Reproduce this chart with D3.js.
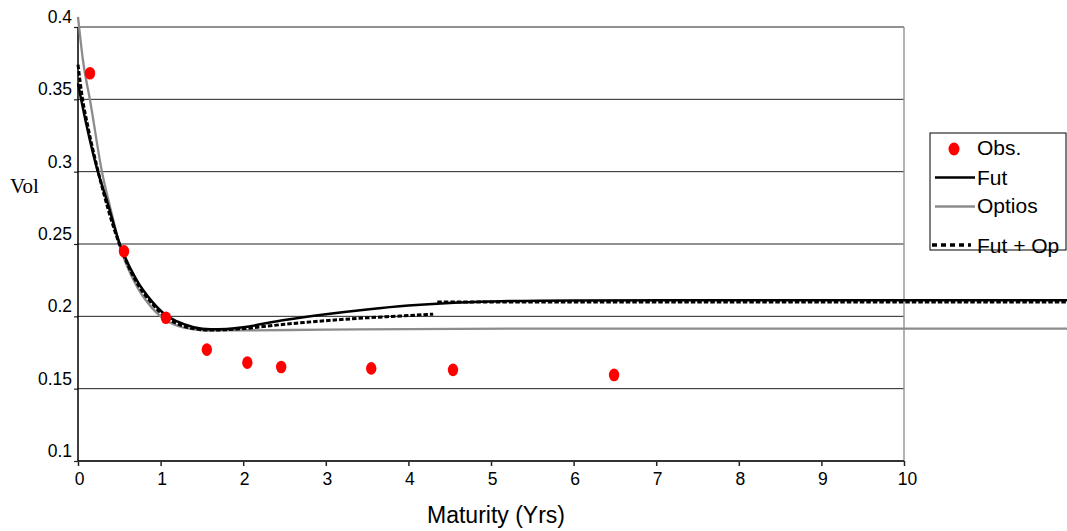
<!DOCTYPE html>
<html>
<head>
<meta charset="utf-8">
<script src="https://cdn.jsdelivr.net/npm/d3@7"></script>
<style>
  body { margin: 0; background: #fff; }
</style>
</head>
<body>
<script>
// observed vols
const obsMat = [0.145, 0.557, 1.065, 1.56, 2.05, 2.46, 3.55, 4.54, 6.49];
const obsVol = [0.368, 0.245, 0.199, 0.177, 0.168, 0.165, 0.164, 0.163, 0.1595];

// fitted curves
const futMat = [0, 0.1, 0.24, 0.35, 0.5, 0.7, 0.9, 1.06, 1.2, 1.4, 1.6, 1.8, 2, 2.5, 3, 3.5, 4, 4.5, 5, 6, 8, 12];
const futVol = [0.361, 0.333, 0.300, 0.280, 0.251, 0.226, 0.210, 0.201, 0.1965, 0.1925, 0.191, 0.1913, 0.1925, 0.1975, 0.2015, 0.2048, 0.2075, 0.2093, 0.2103, 0.2110, 0.2112, 0.2112];

const optMat = [0, 0.06, 0.15, 0.29, 0.4, 0.51, 0.7, 0.9, 1.06, 1.2, 1.4, 1.6, 2, 3, 4, 6, 12];
const optVol = [0.407, 0.377, 0.348, 0.300, 0.273, 0.248, 0.222, 0.2055, 0.1975, 0.1935, 0.191, 0.1902, 0.1903, 0.1908, 0.1912, 0.1915, 0.1915];

const bothMat = [0, 0.05, 0.12, 0.24, 0.5, 0.7, 0.9, 1.06, 1.2, 1.4, 1.6, 1.8, 2, 2.5, 3, 3.5, 3.9, 4.3];
const bothVol = [0.374, 0.352, 0.331, 0.301, 0.250, 0.2245, 0.2085, 0.1995, 0.195, 0.1915, 0.1905, 0.1908, 0.1915, 0.1945, 0.197, 0.199, 0.2002, 0.2015];
// second piece of the dashed series, lying on top of Fut
const bothMat2 = [4.35, 12];
const bothVol2 = [0.2099, 0.2099];

const xTicks = [0, 1, 2, 3, 4, 5, 6, 7, 8, 9, 10];
const yTicks = [0.1, 0.15, 0.2, 0.25, 0.3, 0.35, 0.4];

const outerWidth = 1067;
const outerHeight = 531;
const margin = {top: 27, left: 78, bottom: 70, right: 163};
const width = outerWidth - margin.left - margin.right;
const height = outerHeight - margin.top - margin.bottom;

const sans = '"Liberation Sans", Arial, sans-serif';

const svg = d3.select('body')
  .append('svg')
  .attr('width', outerWidth)
  .attr('height', outerHeight)
  .append('g')
  .attr('transform', `translate(${margin.left}, ${margin.top})`);

const xScale = d3.scaleLinear().domain([0, 10]).range([0, width]);
const yScale = d3.scaleLinear().domain([0.1, 0.4]).range([height, 0]);

// gridlines
svg.selectAll('.grid')
  .data(yTicks.filter(d => d > 0.1))
  .enter()
  .append('line')
  .attr('class', 'grid')
  .attr('x1', 0)
  .attr('x2', width)
  .attr('y1', d => yScale(d))
  .attr('y2', d => yScale(d))
  .attr('stroke', '#222')
  .attr('stroke-width', 1);

// right border
svg.append('line')
  .attr('x1', width).attr('x2', width)
  .attr('y1', 0).attr('y2', height)
  .attr('stroke', '#999')
  .attr('stroke-width', 1.5);

const xAxis = d3.axisBottom(xScale).tickValues(xTicks).tickSize(5).tickFormat(d3.format('d'));
const yAxis = d3.axisLeft(yScale).tickValues(yTicks).tickSize(4).tickFormat(d => d);

const gx = svg.append('g')
  .attr('class', 'axis x-axis')
  .attr('transform', `translate(0, ${height})`)
  .call(xAxis);
gx.select('.domain').remove();
gx.selectAll('.tick line').attr('stroke', '#222').attr('stroke-width', 1.5);
gx.selectAll('.tick text')
  .attr('y', 24).attr('dy', 0)
  .attr('dx', d => d === 10 ? 3 : 1)
  .style('font-size', '17.5px')
  .style('font-family', sans)
  .attr('fill', '#000');

const gy = svg.append('g')
  .attr('class', 'axis y-axis')
  .call(yAxis);
gy.select('.domain').remove();
gy.selectAll('.tick line').attr('stroke', '#222').attr('stroke-width', 1.2);
gy.selectAll('.tick text')
  .attr('x', -6).attr('dy', 0).attr('y', -4.5)
  .style('font-size', '17.5px')
  .style('font-family', sans)
  .attr('fill', '#000');

// axis lines
svg.append('line')
  .attr('x1', 0).attr('x2', width)
  .attr('y1', height).attr('y2', height)
  .attr('stroke', '#333').attr('stroke-width', 2);
svg.append('line')
  .attr('x1', 0).attr('x2', 0)
  .attr('y1', 0).attr('y2', height)
  .attr('stroke', '#000').attr('stroke-width', 1.5);

const line = d3.line()
  .x(d => xScale(d[0]))
  .y(d => yScale(d[1]))
  .curve(d3.curveMonotoneX);

const zip = (a, b) => a.map((d, i) => [d, b[i]]);

svg.append('path')
  .datum(zip(optMat, optVol))
  .attr('d', line)
  .attr('fill', 'none')
  .attr('stroke', '#8c8c8c')
  .attr('stroke-width', 2.3);

svg.append('path')
  .datum(zip(futMat, futVol))
  .attr('d', line)
  .attr('fill', 'none')
  .attr('stroke', '#000')
  .attr('stroke-width', 2.5);

[zip(bothMat, bothVol), zip(bothMat2, bothVol2)].forEach(seg => {
  svg.append('path')
    .datum(seg)
    .attr('d', line)
    .attr('fill', 'none')
    .attr('stroke', '#000')
    .attr('stroke-width', 3)
    .attr('stroke-dasharray', '4.5,2');
});

svg.selectAll('.obs')
  .data(zip(obsMat, obsVol))
  .enter()
  .append('ellipse')
  .attr('class', 'obs')
  .attr('cx', d => xScale(d[0]))
  .attr('cy', d => yScale(d[1]))
  .attr('rx', 5.2)
  .attr('ry', 6.3)
  .attr('fill', '#ff0000');

// axis titles
svg.append('text')
  .attr('x', width / 2 + 5)
  .attr('y', height + 62)
  .attr('text-anchor', 'middle')
  .style('font-family', sans)
  .style('font-size', '23px')
  .text('Maturity (Yrs)');

svg.append('text')
  .attr('x', 10 - margin.left)
  .attr('y', 193 - margin.top)
  .style('font-family', '"Liberation Serif", "Times New Roman", serif')
  .style('font-size', '21px')
  .text('Vol');

// legend
const legend = d3.select('svg').append('g').attr('transform', 'translate(930, 133)');
legend.append('rect')
  .attr('x', 0).attr('y', 0)
  .attr('width', 136).attr('height', 117)
  .attr('fill', '#fff')
  .attr('stroke', '#000')
  .attr('stroke-width', 1);

legend.append('ellipse')
  .attr('cx', 24).attr('cy', 16)
  .attr('rx', 5.5).attr('ry', 6.5)
  .attr('fill', '#ff0000');
legend.append('line')
  .attr('x1', 5).attr('x2', 45).attr('y1', 44.5).attr('y2', 44.5)
  .attr('stroke', '#000').attr('stroke-width', 2.5);
legend.append('line')
  .attr('x1', 5).attr('x2', 45).attr('y1', 73.5).attr('y2', 73.5)
  .attr('stroke', '#8c8c8c').attr('stroke-width', 2.5);
legend.append('line')
  .attr('x1', 2).attr('x2', 41).attr('y1', 112).attr('y2', 112)
  .attr('stroke', '#000').attr('stroke-width', 3.5)
  .attr('stroke-dasharray', '5,4');

const legendLabels = ['Obs.', 'Fut', 'Optios', 'Fut + Op'];
const legendBase = [22, 52, 80, 120];
legend.selectAll('.lab')
  .data(legendLabels)
  .enter()
  .append('text')
  .attr('class', 'lab')
  .attr('x', 47)
  .attr('y', (d, i) => legendBase[i])
  .style('font-family', sans)
  .style('font-size', '21px')
  .text(d => d);
</script>
</body>
</html>
